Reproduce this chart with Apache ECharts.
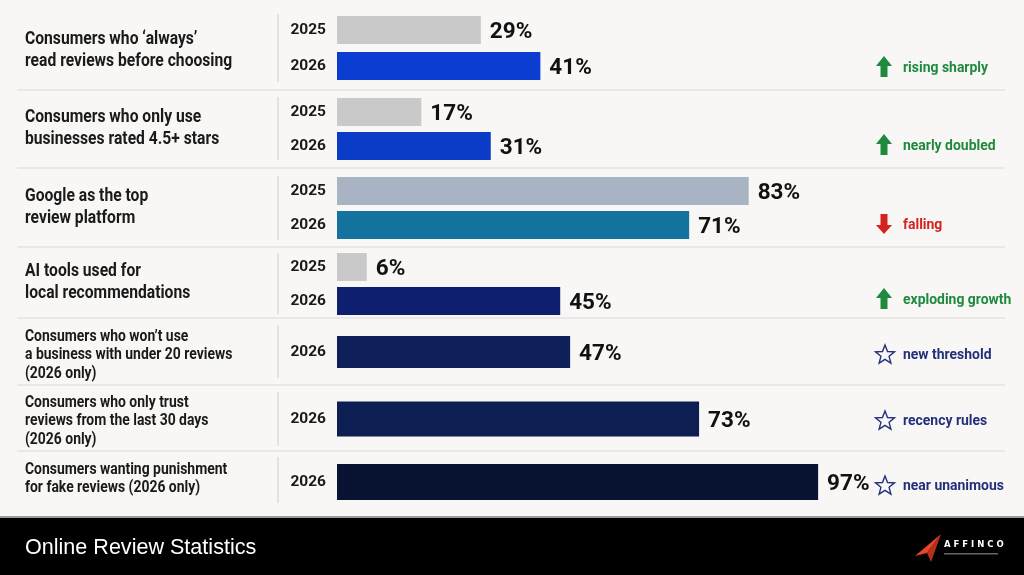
<!DOCTYPE html>
<html>
<head>
<meta charset="utf-8">
<script src="https://cdn.jsdelivr.net/npm/echarts@6/dist/echarts.min.js"></script>
<style>
  html, body { margin: 0; padding: 0; background: #f8f7f5; }
  #main { width: 1024px; height: 575px; }
</style>
</head>
<body>
<div id="main"></div>
<script>
  // data
  const groupLabels = [
    'Consumers who \u2018always\u2019\nread reviews before choosing',
    'Consumers who only use\nbusinesses rated 4.5+ stars',
    'Google as the top\nreview platform',
    'AI tools used for\nlocal recommendations',
    'Consumers who won\u2019t use\na business with under 20 reviews\n(2026 only)',
    'Consumers who only trust\nreviews from the last 30 days\n(2026 only)',
    'Consumers wanting punishment\nfor fake reviews (2026 only)'
  ];
  const values2025 = [29, 17, 83, 6, null, null, null];
  const values2026 = [41, 31, 71, 45, 47, 73, 97];
  const notes = ['rising sharply', 'nearly doubled', 'falling', 'exploding growth', 'new threshold', 'recency rules', 'near unanimous'];
  const trends = ['up', 'up', 'down', 'up', 'star', 'star', 'star'];
  const footerTitle = 'Online Review Statistics';

  // layout / style
  const FONT = 'Roboto, "Liberation Sans", sans-serif';
  const gridBox = [
    { top: 12, height: 72, bar: 28 },
    { top: 95, height: 68, bar: 28 },
    { top: 174, height: 68, bar: 28 },
    { top: 250, height: 68, bar: 28 },
    { top: 332, height: 40, bar: 32 },
    { top: 399, height: 40, bar: 35 },
    { top: 462, height: 40, bar: 36 }
  ];
  const colors2025 = ['#c9c9c9', '#c9c9c9', '#a8b3c3', '#c9c9c9'];
  const colors2026 = ['#0a3dd0', '#0a3cc8', '#13729e', '#0d1f6e', '#0e1f5a', '#0d1e52', '#081331'];
  const textBlocks = [
    { y: 50, lh: 22, size: 18 },
    { y: 128, lh: 22, size: 18 },
    { y: 207, lh: 22, size: 18 },
    { y: 282, lh: 22, size: 18 },
    { y: 355, lh: 18.5, size: 16 },
    { y: 421, lh: 18.5, size: 16 },
    { y: 479, lh: 18.5, size: 16 }
  ];
  const dividers = [[14, 82], [97, 160], [176, 240], [253, 314], [325, 378], [392, 446], [457, 503]];
  const separators = [90, 168, 247, 318, 385, 451];
  const noteY = [67, 145, 224, 299, 354, 420, 485];
  const noteColor = { up: '#1f8a3e', down: '#d42222', star: '#25307a' };

  const chart = echarts.init(document.getElementById('main'));

  const grids = [], xAxes = [], yAxes = [], series = [];
  groupLabels.forEach((g, i) => {
    const has25 = values2025[i] != null;
    const cats = has25 ? ['2025', '2026'] : ['2026'];
    grids.push({ left: 337, width: 496, top: gridBox[i].top, height: gridBox[i].height });
    xAxes.push({ gridIndex: i, type: 'value', min: 0, max: 100, show: false });
    yAxes.push({
      gridIndex: i, type: 'category', data: cats, inverse: true,
      axisLine: { show: false }, axisTick: { show: false }, splitLine: { show: false },
      axisLabel: { margin: 11, fontFamily: FONT, fontWeight: 'bold', fontSize: 15.5, color: '#1a1a1a' }
    });
    const data = [];
    if (has25) data.push({ value: values2025[i], itemStyle: { color: colors2025[i] } });
    data.push({ value: values2026[i], itemStyle: { color: colors2026[i] } });
    series.push({
      type: 'bar', xAxisIndex: i, yAxisIndex: i, data: data,
      barWidth: gridBox[i].bar, silent: true,
      label: {
        show: true, position: 'right', distance: 9, offset: [0, 2], formatter: '{c}%',
        fontFamily: FONT, fontWeight: 'bold', fontSize: 22.5, color: '#111'
      }
    });
  });

  const graphic = [];
  // category texts (condensed look via scaleX)
  groupLabels.forEach((g, i) => {
    graphic.push({
      type: 'text', x: 25, y: textBlocks[i].y, scaleX: 0.87, silent: true,
      style: {
        text: g, fill: '#1a1a1a', font: 'bold ' + textBlocks[i].size + 'px ' + FONT,
        lineHeight: textBlocks[i].lh, verticalAlign: 'middle', align: 'left'
      }
    });
  });
  dividers.forEach(d => {
    graphic.push({ type: 'line', silent: true, shape: { x1: 278, y1: d[0], x2: 278, y2: d[1] }, style: { stroke: '#cfcfcf', lineWidth: 1 } });
  });
  separators.forEach(y => {
    graphic.push({ type: 'line', silent: true, shape: { x1: 17, y1: y, x2: 1005, y2: y }, style: { stroke: '#e3e3e3', lineWidth: 1.5 } });
  });
  // annotations
  notes.forEach((n, i) => {
    const y = noteY[i], cx = 884, t = trends[i];
    if (t === 'up') {
      graphic.push({ type: 'polygon', silent: true, shape: { points: [[cx, y - 11], [cx + 8, y - 1], [cx + 3.5, y - 1], [cx + 3.5, y + 10], [cx - 3.5, y + 10], [cx - 3.5, y - 1], [cx - 8, y - 1]] }, style: { fill: noteColor.up } });
    } else if (t === 'down') {
      graphic.push({ type: 'polygon', silent: true, shape: { points: [[cx, y + 10], [cx + 8, y + 1], [cx + 3.5, y + 1], [cx + 3.5, y - 10], [cx - 3.5, y - 10], [cx - 3.5, y + 1], [cx - 8, y + 1]] }, style: { fill: noteColor.down } });
    } else {
      const pts = [];
      for (let k = 0; k < 10; k++) {
        const r = k % 2 === 0 ? 10 : 4.3;
        const a = -Math.PI / 2 + k * Math.PI / 5;
        pts.push([cx + 1 + r * Math.cos(a), y + 1 + r * Math.sin(a)]);
      }
      graphic.push({ type: 'polygon', silent: true, shape: { points: pts }, style: { fill: 'none', stroke: noteColor.star, lineWidth: 1.4 } });
    }
    graphic.push({
      type: 'text', x: 903, y: y + 1, scaleX: 0.9, silent: true,
      style: { text: n, fill: noteColor[t], font: 'bold 15.5px ' + FONT, verticalAlign: 'middle', align: 'left' }
    });
  });
  // footer
  graphic.push({ type: 'rect', silent: true, shape: { x: 0, y: 516, width: 1024, height: 2 }, style: { fill: '#9a9a9a' } });
  graphic.push({ type: 'rect', silent: true, shape: { x: 0, y: 518, width: 1024, height: 57 }, style: { fill: '#000' } });
  graphic.push({
    type: 'text', x: 25, y: 548, scaleX: 0.98, silent: true,
    style: { text: footerTitle, fill: '#fff', font: '22px "Liberation Sans", Arial, sans-serif', verticalAlign: 'middle' }
  });
  // logo
  graphic.push({ type: 'polygon', silent: true, shape: { points: [[941, 534], [915, 556], [927, 553]] }, style: { fill: '#e5462c' } });
  graphic.push({ type: 'polygon', silent: true, shape: { points: [[941, 534], [927, 553], [931, 562]] }, style: { fill: '#b8301c' } });
  graphic.push({
    type: 'text', x: 944, y: 545, silent: true,
    style: { text: 'A F F I N C O', fill: '#fff', font: 'bold 8.5px "DejaVu Sans", sans-serif', verticalAlign: 'middle' }
  });
  graphic.push({ type: 'rect', silent: true, shape: { x: 944, y: 553, width: 54, height: 1.5 }, style: { fill: '#666' } });

  chart.setOption({
    backgroundColor: '#f8f7f5',
    animation: false,
    grid: grids,
    xAxis: xAxes,
    yAxis: yAxes,
    series: series,
    graphic: graphic
  });
</script>
</body>
</html>
